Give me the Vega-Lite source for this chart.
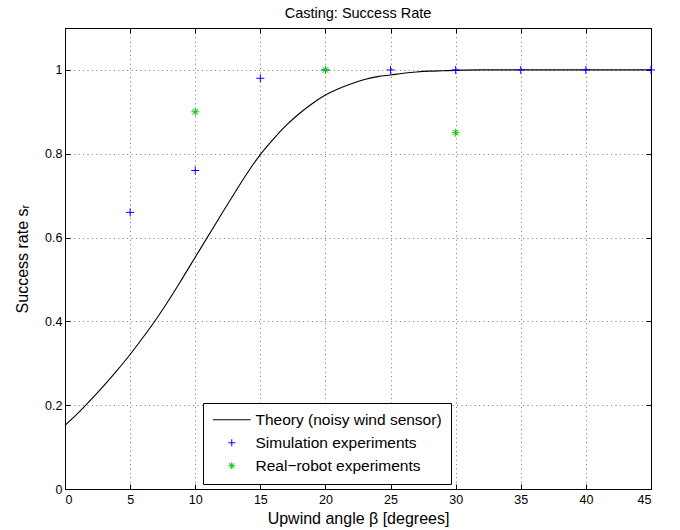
{
  "$schema": "https://vega.github.io/schema/vega-lite/v6.json",
  "width": 586,
  "height": 461,
  "autosize": {"type": "none"},
  "padding": {"left": 65, "top": 28, "right": 29, "bottom": 41},
  "background": "white",
  "title": {
    "text": "Casting: Success Rate",
    "font": "Liberation Sans",
    "fontSize": 14.5,
    "fontWeight": "normal",
    "color": "black",
    "anchor": "middle",
    "offset": 6
  },
  "config": {
    "view": {"stroke": "black", "strokeWidth": 1},
    "axis": {
      "labelFont": "Liberation Sans",
      "labelFontSize": 12.5,
      "labelColor": "black",
      "titleFont": "Liberation Sans",
      "titleFontSize": 16,
      "titleFontWeight": "normal",
      "titleColor": "black",
      "domainColor": "black",
      "tickColor": "black",
      "tickSize": -5,
      "gridColor": "#000000",
      "gridOpacity": 0.55,
      "gridDash": [1, 3.4]
    },
    "legend": {
      "labelFont": "Liberation Sans",
      "labelFontSize": 15.5,
      "labelColor": "black",
      "labelLimit": 0
    }
  },
  "datasets": {
    "theory": [
      {"angle": 0, "rate": 0.152}, {"angle": 1, "rate": 0.181}, {"angle": 2, "rate": 0.213},
      {"angle": 3, "rate": 0.247}, {"angle": 4, "rate": 0.283}, {"angle": 5, "rate": 0.321},
      {"angle": 6, "rate": 0.362}, {"angle": 7, "rate": 0.405}, {"angle": 8, "rate": 0.452},
      {"angle": 9, "rate": 0.502}, {"angle": 10, "rate": 0.553}, {"angle": 11, "rate": 0.604},
      {"angle": 12, "rate": 0.655}, {"angle": 13, "rate": 0.705}, {"angle": 14, "rate": 0.754},
      {"angle": 15, "rate": 0.798}, {"angle": 16, "rate": 0.835}, {"angle": 17, "rate": 0.868},
      {"angle": 18, "rate": 0.896}, {"angle": 19, "rate": 0.920}, {"angle": 20, "rate": 0.940},
      {"angle": 21, "rate": 0.955}, {"angle": 22, "rate": 0.967}, {"angle": 23, "rate": 0.977},
      {"angle": 24, "rate": 0.984}, {"angle": 25, "rate": 0.988}, {"angle": 26, "rate": 0.992},
      {"angle": 27, "rate": 0.995}, {"angle": 28, "rate": 0.997}, {"angle": 29, "rate": 0.998},
      {"angle": 30, "rate": 0.999}, {"angle": 32, "rate": 1.0}, {"angle": 35, "rate": 1.0},
      {"angle": 40, "rate": 1.0}, {"angle": 45, "rate": 1.0}
    ],
    "experiments": [
      {"angle": 5, "rate": 0.66, "series": "Simulation experiments"},
      {"angle": 10, "rate": 0.76, "series": "Simulation experiments"},
      {"angle": 15, "rate": 0.98, "series": "Simulation experiments"},
      {"angle": 20, "rate": 1.0, "series": "Simulation experiments"},
      {"angle": 25, "rate": 1.0, "series": "Simulation experiments"},
      {"angle": 30, "rate": 1.0, "series": "Simulation experiments"},
      {"angle": 35, "rate": 1.0, "series": "Simulation experiments"},
      {"angle": 40, "rate": 1.0, "series": "Simulation experiments"},
      {"angle": 45, "rate": 1.0, "series": "Simulation experiments"},
      {"angle": 10, "rate": 0.90, "series": "Real−robot experiments"},
      {"angle": 20, "rate": 1.0, "series": "Real−robot experiments"},
      {"angle": 30, "rate": 0.85, "series": "Real−robot experiments"}
    ]
  },
  "layer": [
    {
      "data": {"name": "theory"},
      "mark": {"type": "line", "color": "black", "strokeWidth": 1.1, "interpolate": "monotone"},
      "encoding": {
        "x": {
          "field": "angle", "type": "quantitative",
          "scale": {"domain": [0, 45], "nice": false, "zero": false},
          "axis": {
            "orient": "bottom",
            "title": "Upwind angle β [degrees]",
            "values": [0, 5, 10, 15, 20, 25, 30, 35, 40, 45],
            "labelPadding": 9,
            "titlePadding": 5,
            "grid": true
          }
        },
        "y": {
          "field": "rate", "type": "quantitative",
          "scale": {"domain": [0, 1.1], "nice": false, "zero": false},
          "axis": {
            "orient": "left",
            "title": "Success rate sᵣ",
            "values": [0, 0.2, 0.4, 0.6, 0.8, 1],
            "format": ".1~f",
            "labelPadding": 8,
            "titlePadding": 14,
            "grid": true
          }
        }
      }
    },
    {
      "data": {"name": "experiments"},
      "mark": {"type": "point", "filled": false, "strokeWidth": 1, "size": 64, "opacity": 1},
      "encoding": {
        "x": {
          "field": "angle", "type": "quantitative",
          "scale": {"domain": [0, 45], "nice": false, "zero": false},
          "axis": {
            "orient": "top", "title": null, "labels": false, "grid": false,
            "values": [0, 5, 10, 15, 20, 25, 30, 35, 40, 45]
          }
        },
        "y": {
          "field": "rate", "type": "quantitative",
          "scale": {"domain": [0, 1.1], "nice": false, "zero": false},
          "axis": {
            "orient": "right", "title": null, "labels": false, "grid": false,
            "values": [0, 0.2, 0.4, 0.6, 0.8, 1]
          }
        },
        "color": {
          "field": "series", "type": "nominal",
          "scale": {
            "domain": ["Theory (noisy wind sensor)", "Simulation experiments", "Real−robot experiments"],
            "range": ["black", "#0000ff", "#00c800"]
          },
          "legend": {
            "title": null,
            "orient": "none",
            "legendX": 138,
            "legendY": 375,
            "strokeColor": "black",
            "fillColor": "white",
            "padding": 9,
            "symbolSize": 49,
            "symbolStrokeWidth": 1,
            "symbolOffset": 12,
            "labelOffset": 16,
            "rowPadding": 6
          }
        },
        "shape": {
          "field": "series", "type": "nominal",
          "scale": {
            "domain": ["Theory (noisy wind sensor)", "Simulation experiments", "Real−robot experiments"],
            "range": [
              "M-5.4,0H5.4",
              "M-1,0H1M0,-1V1",
              "M-1,0H1M0,-1V1M-0.7,-0.7L0.7,0.7M-0.7,0.7L0.7,-0.7"
            ]
          },
          "legend": {
            "title": null,
            "orient": "none",
            "legendX": 138,
            "legendY": 375
          }
        }
      }
    }
  ],
  "resolve": {"axis": {"x": "independent", "y": "independent"}}
}
